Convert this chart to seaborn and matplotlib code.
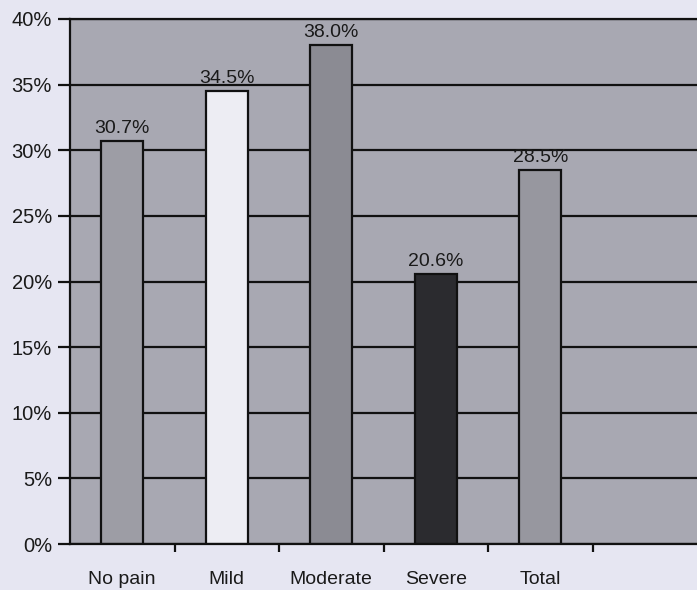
import matplotlib
matplotlib.use("Agg")
import matplotlib.pyplot as plt
import seaborn as sns
import pandas as pd
import numpy as np
from matplotlib.ticker import FixedLocator, PercentFormatter

categories = ["No pain", "Mild", "Moderate", "Severe", "Total"]
values = [30.7, 34.5, 38.0, 20.6, 28.5]
bar_colors = ["#9c9ca6", "#ececf4", "#8a8a94", "#2a2a30", "#9696a0"]
y_ticks = [0, 5, 10, 15, 20, 25, 30, 35, 40]

sns.set_theme(style="white")
plt.rcParams['font.family'] = ['Liberation Sans', 'DejaVu Sans']

df = pd.DataFrame({"cat": categories, "val": values})

fig = plt.figure(figsize=(6.97, 5.9), dpi=100, facecolor="#e6e6f2")
ax = fig.add_axes([70/697, 46/590, 1 - 70/697, (544-19)/590])
ax.set_facecolor("#a8a8b2")

for y in y_ticks:
    ax.axhline(y, color="#111111", lw=1.6, zorder=0.5)

sns.barplot(data=df, x="cat", y="val", hue="cat", palette=bar_colors,
            width=0.4, edgecolor="#111111", linewidth=1.6, legend=False,
            ax=ax, zorder=2)

for i, v in enumerate(values):
    ax.text(i, v + 0.3, f"{v:.1f}%", ha="center", va="bottom",
            fontsize=14, color="#1a1a1a", zorder=3)

ax.set_xlim(-0.5, 5.5)
ax.set_ylim(0, 40)
ax.set_yticks(y_ticks)
ax.yaxis.set_major_formatter(PercentFormatter(decimals=0))
ax.set_xlabel("")
ax.set_ylabel("")

ax.xaxis.set_minor_locator(FixedLocator([0.5, 1.5, 2.5, 3.5, 4.5]))
ax.tick_params(axis="x", which="major", length=0, pad=19.5, labelsize=14, labelcolor="#1a1a1a")
ax.tick_params(axis="x", which="minor", length=6, width=1.6, color="#111111", direction="out", bottom=True)
ax.tick_params(axis="y", which="major", length=9, width=1.6, color="#111111", direction="out", left=True,
               labelsize=14.5, labelcolor="#1a1a1a", pad=4)

for s in ["left", "bottom", "top"]:
    ax.spines[s].set_visible(True)
    ax.spines[s].set_color("#111111")
    ax.spines[s].set_linewidth(1.6)
ax.spines["right"].set_visible(False)

fig.savefig("out.png", dpi=100, facecolor=fig.get_facecolor())
